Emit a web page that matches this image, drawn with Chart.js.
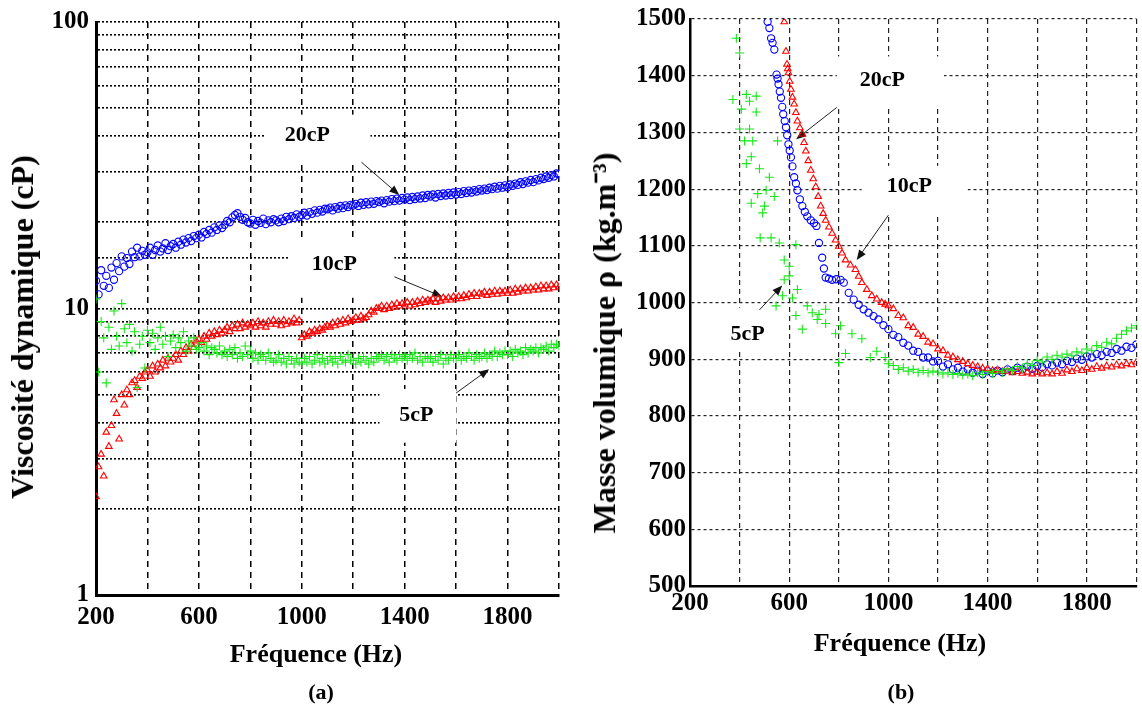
<!DOCTYPE html>
<html lang="fr">
<head>
<meta charset="UTF-8">
<title>Viscosité et masse volumique</title>
<script src="https://cdn.jsdelivr.net/npm/chart.js@4"></script>
<style>
    body { margin: 0; background: #fff; }
    #page { position: relative; width: 1142px; height: 706px; overflow: hidden; background: #fff; }
    canvas { position: absolute; top: 0; }
    .t {
        position: absolute;
        font-family: "Liberation Serif", "Times New Roman", serif;
        font-weight: bold;
        line-height: 1;
        white-space: nowrap;
        color: #000;
    }
    .rot { transform: translate(-50%, -50%) rotate(-90deg); font-size: 32px; }
    .xt { transform: translate(-50%, 0); font-size: 26px; }
    .lab { transform: translate(-50%, -50%); font-size: 22px; }
</style>
</head>
<body>
<div id="page">
    <canvas id="viscChart" width="575" height="706" style="left:0"></canvas>
    <canvas id="rhoChart" width="567" height="706" style="left:575px"></canvas>

    <div class="t rot" style="left:22px; top:327px">Viscosité dynamique (cP)</div>
    <div class="t xt" style="left:316px; top:641px">Fréquence (Hz)</div>
    <div class="t lab" style="left:321px; top:692px">(a)</div>

    <div class="t rot" style="left:604px; top:343px">Masse volumique ρ (kg.m⁻³)</div>
    <div class="t xt" style="left:900px; top:630px">Fréquence (Hz)</div>
    <div class="t lab" style="left:901px; top:692px">(b)</div>
</div>

<script>
    // ---- (a) viscosité : fréquences communes aux trois fluides (pas de 10 Hz)
    const freqVisc = [
        200, 210, 220, 230, 240, 250, 260, 270, 280, 290,
        300, 310, 320, 330, 340, 350, 360, 370, 380, 390,
        400, 410, 420, 430, 440, 450, 460, 470, 480, 490,
        500, 510, 520, 530, 540, 550, 560, 570, 580, 590,
        600, 610, 620, 630, 640, 650, 660, 670, 680, 690,
        700, 710, 720, 730, 740, 750, 760, 770, 780, 790,
        800, 810, 820, 830, 840, 850, 860, 870, 880, 890,
        900, 910, 920, 930, 940, 950, 960, 970, 980, 990,
        1000, 1010, 1020, 1030, 1040, 1050, 1060, 1070, 1080, 1090,
        1100, 1110, 1120, 1130, 1140, 1150, 1160, 1170, 1180, 1190,
        1200, 1210, 1220, 1230, 1240, 1250, 1260, 1270, 1280, 1290,
        1300, 1310, 1320, 1330, 1340, 1350, 1360, 1370, 1380, 1390,
        1400, 1410, 1420, 1430, 1440, 1450, 1460, 1470, 1480, 1490,
        1500, 1510, 1520, 1530, 1540, 1550, 1560, 1570, 1580, 1590,
        1600, 1610, 1620, 1630, 1640, 1650, 1660, 1670, 1680, 1690,
        1700, 1710, 1720, 1730, 1740, 1750, 1760, 1770, 1780, 1790,
        1800, 1810, 1820, 1830, 1840, 1850, 1860, 1870, 1880, 1890,
        1900, 1910, 1920, 1930, 1940, 1950, 1960, 1970, 1980, 1990,
        2000
    ];
    const visc20 = [
        12.5, 11.2, 13.6, 12.0, 13.0, 11.8, 13.9, 12.6, 14.4, 13.5,
        15.2, 14.0, 15.0, 14.3, 15.8, 15.1, 16.3, 15.2, 15.9, 15.4,
        15.7, 16.3, 15.4, 16.0, 16.6, 15.8, 16.2, 16.9, 16.0, 16.5,
        16.8, 16.3, 17.1, 16.7, 17.4, 17.0, 17.6, 17.2, 17.9, 17.6,
        18.1, 17.7, 18.5, 18.2, 18.8, 18.4, 19.2, 18.8, 19.5, 19.1,
        19.6, 20.2, 20.0, 20.8, 21.2, 21.5, 20.9, 20.4, 20.7, 20.0,
        19.8, 20.4, 19.6, 20.2, 19.9, 20.6, 19.7, 20.3, 20.0, 20.5,
        20.3, 20.0, 20.6, 20.2, 20.9, 20.5, 21.0, 20.7, 21.3, 20.9,
        21.2, 21.6, 21.1, 21.7, 21.4, 22.0, 21.6, 22.1, 21.8, 22.3,
        22.2, 22.5, 22.0, 22.6, 22.3, 22.8, 22.4, 22.9, 22.6, 23.0,
        22.9, 23.2, 22.8, 23.4, 23.0, 23.5, 23.1, 23.6, 23.2, 23.7,
        23.5, 23.8, 23.3, 23.9, 23.6, 24.1, 23.7, 24.2, 23.8, 24.3,
        24.0, 24.4, 23.9, 24.5, 24.1, 24.6, 24.2, 24.8, 24.3, 24.9,
        24.6, 25.0, 24.4, 25.1, 24.7, 25.2, 24.8, 25.3, 24.9, 25.4,
        25.0, 25.5, 25.1, 25.7, 25.3, 25.8, 25.4, 25.9, 25.6, 26.1,
        25.8, 26.2, 25.9, 26.4, 26.1, 26.6, 26.2, 26.8, 26.4, 26.9,
        26.5, 27.1, 26.8, 27.3, 27.0, 27.6, 27.2, 27.8, 27.5, 28.1,
        27.6, 28.3, 28.0, 28.6, 28.3, 28.9, 28.6, 29.2, 28.9, 29.6,
        29.4
    ];
    const visc10 = [
        2.2, 2.8, 3.1, 2.6, 3.7, 3.3, 3.9, 4.8, 4.3, 3.5,
        5.0, 4.6, 5.2, 5.0, 5.5, 5.6, 5.3, 5.8, 5.7, 6.0,
        6.1, 5.8, 6.3, 6.0, 6.4, 6.2, 6.6, 6.3, 6.7, 6.5,
        6.7, 6.9, 6.6, 7.1, 6.9, 7.3, 7.1, 7.5, 7.3, 7.7,
        7.8, 7.6, 8.0, 7.8, 8.2, 8.0, 8.3, 8.1, 8.4, 8.2,
        8.4, 8.6, 8.3, 8.7, 8.5, 8.8, 8.5, 8.9, 8.6, 8.8,
        8.7, 8.9, 8.6, 9.0, 8.7, 8.9, 8.6, 9.0, 8.8, 9.1,
        8.8, 9.0, 8.7, 9.1, 8.8, 9.0, 8.9, 9.2, 8.9, 9.1,
        7.9, 8.1, 8.0, 8.3, 8.2, 8.4, 8.3, 8.5, 8.4, 8.6,
        8.7, 8.6, 8.9, 8.7, 9.0, 8.8, 9.1, 8.9, 9.2, 9.0,
        9.1, 9.3, 9.1, 9.4, 9.2, 9.3, 9.5, 9.8, 9.7, 10.0,
        10.0, 10.2, 9.9, 10.2, 10.0, 10.3, 10.1, 10.4, 10.2, 10.4,
        10.3, 10.5, 10.2, 10.5, 10.3, 10.6, 10.4, 10.7, 10.5, 10.7,
        10.6, 10.8, 10.5, 10.8, 10.6, 10.9, 10.7, 10.9, 10.7, 11.0,
        10.8, 11.0, 10.8, 11.1, 10.9, 11.2, 11.0, 11.3, 11.0, 11.3,
        11.2, 11.4, 11.1, 11.4, 11.2, 11.5, 11.2, 11.5, 11.3, 11.5,
        11.3, 11.6, 11.3, 11.7, 11.4, 11.7, 11.5, 11.8, 11.5, 11.8,
        11.6, 11.9, 11.6, 12.0, 11.7, 12.0, 11.7, 12.1, 11.8, 12.1,
        11.9
    ];
    const visc5 = [
        10.8, 6.0, 9.0, 7.9, 5.5, 8.6, 7.2, 9.8, 8.0, 7.4,
        10.4, 8.5, 7.6, 8.8, 7.1, 8.3, 5.3, 7.5, 8.0, 6.2,
        8.4, 7.6, 8.2, 7.2, 7.9, 8.6, 7.5, 8.0, 6.8, 7.7,
        8.1, 7.3, 7.9, 7.6, 8.3, 7.1, 7.7, 7.4, 7.9, 7.2,
        7.3, 7.6, 7.1, 7.4, 6.9, 7.3, 7.2, 7.0, 7.4, 6.9,
        7.1, 6.8, 7.2, 6.9, 7.3, 6.7, 7.0, 6.8, 7.4, 6.9,
        7.1, 6.7, 7.0, 6.6, 6.9, 6.8, 6.6, 7.0, 6.7, 6.5,
        6.6, 6.9, 6.5, 6.7, 6.4, 6.8, 6.6, 6.4, 6.7, 6.5,
        6.4, 6.7, 6.5, 6.8, 6.4, 6.6, 6.9, 6.5, 6.7, 6.4,
        6.6, 6.8, 6.5, 6.7, 6.4, 6.8, 6.6, 6.5, 6.9, 6.6,
        6.6, 6.4, 6.7, 6.5, 6.8, 6.6, 6.4, 6.7, 6.5, 6.8,
        6.7, 6.9, 6.6, 6.8, 6.5, 6.9, 6.7, 6.6, 6.9, 6.7,
        6.8, 6.6, 6.9, 6.7, 7.0, 6.6, 6.8, 6.5, 6.8, 6.7,
        6.7, 6.5, 6.8, 6.6, 6.9, 6.4, 6.7, 6.6, 6.9, 6.7,
        6.7, 6.9, 6.6, 6.8, 6.7, 7.0, 6.8, 6.6, 6.9, 6.7,
        6.8, 7.0, 6.7, 6.9, 6.8, 7.1, 6.8, 7.0, 6.9, 7.1,
        6.9, 7.1, 6.8, 7.2, 7.0, 7.1, 6.9, 7.3, 7.0, 7.2,
        7.1, 7.3, 7.0, 7.3, 7.2, 7.4, 7.1, 7.5, 7.3, 7.5,
        7.4
    ];

    // ---- (b) masse volumique
    const freqRho20 = [
        513, 520, 527, 533, 540, 549, 553, 557, 562, 567, 572, 576, 582, 587, 592, 597, 602, 607, 613, 620,
        627, 633, 643, 653, 663, 673, 687, 700, 710, 720, 733, 740, 747, 760, 773, 790, 807, 820, 840, 860,
        880, 900, 920, 940, 960, 980,
        1000, 1020, 1040, 1060, 1080, 1100, 1120, 1140, 1160, 1180,
        1200, 1220, 1240, 1260, 1280, 1300, 1320, 1340, 1360, 1380,
        1400, 1420, 1440, 1460, 1480, 1500, 1520, 1540, 1560, 1580,
        1600, 1620, 1640, 1660, 1680, 1700, 1720, 1740, 1760, 1780,
        1800, 1820, 1840, 1860, 1880, 1900, 1920, 1940, 1960, 1980, 2000
    ];
    const rho20 = [
        1495, 1484, 1466, 1458, 1446, 1402, 1395, 1385, 1372, 1361, 1345, 1332, 1320, 1309, 1295, 1279, 1268, 1256, 1240, 1221,
        1210, 1198, 1182, 1170, 1160, 1152, 1145, 1140, 1135, 1105, 1079, 1060, 1044, 1042, 1040, 1041, 1040, 1035, 1017, 1005,
        996, 988, 982, 976, 970, 960,
        953, 943, 939, 929, 924, 915, 913, 903, 903, 896,
        897, 887, 891, 882, 885, 878, 882, 876, 880, 874,
        879, 875, 880, 877, 882, 879, 885, 882, 887, 883,
        888, 886, 891, 889, 894, 891, 897, 895, 901, 899,
        905, 903, 909, 907, 913, 911, 918, 915, 922, 920, 926
    ];
    const freqRho10 = [
        580, 587, 591, 594, 597, 602, 607, 613, 620, 627, 633, 643, 653, 660, 667, 677, 687, 697, 707, 717,
        727, 737, 747, 760, 773, 787, 800, 813, 827, 847, 867, 880, 893, 913, 933, 953, 973, 987,
        1000, 1020, 1040, 1060, 1080, 1100, 1120, 1140, 1160, 1180,
        1200, 1220, 1240, 1260, 1280, 1300, 1320, 1340, 1360, 1380,
        1400, 1420, 1440, 1460, 1480, 1500, 1520, 1540, 1560, 1580,
        1600, 1620, 1640, 1660, 1680, 1700, 1720, 1740, 1760, 1780,
        1800, 1820, 1840, 1860, 1880, 1900, 1920, 1940, 1960, 1980, 2000
    ];
    const rho10 = [
        1495, 1443, 1420, 1412, 1405, 1390, 1376, 1362, 1350, 1335, 1320, 1308, 1297, 1282, 1267, 1250, 1233, 1218, 1204, 1187,
        1170, 1157, 1145, 1133, 1122, 1110, 1099, 1087, 1075, 1066, 1058, 1046, 1035, 1023, 1012, 1006, 1000, 997,
        994, 989, 977, 973, 959, 956, 944, 940, 930, 927,
        918, 915, 907, 904, 899, 896, 892, 889, 887, 884,
        883, 880, 881, 878, 879, 876, 878, 875, 877, 874,
        877, 874, 876, 874, 878, 875, 881, 878, 883, 880,
        885, 882, 887, 884, 888, 886, 890, 888, 892, 890, 895
    ];
    const freqRho5 = [
        387, 400, 373, 407, 427, 467, 440, 467, 400, 440, 420, 453, 553, 447, 427, 480, 520, 473, 507, 540,
        447, 500, 493, 483, 527, 560, 627, 580, 600, 580, 600, 573, 613, 547, 633, 627, 653, 673, 693, 720,
        747, 713, 747, 787, 807, 800, 827, 853, 893, 927, 953, 987,
        1000, 1020, 1040, 1060, 1080, 1100, 1120, 1140, 1160, 1180,
        1200, 1220, 1240, 1260, 1280, 1300, 1320, 1340, 1360, 1380,
        1400, 1420, 1440, 1460, 1480, 1500, 1520, 1540, 1560, 1580,
        1600, 1620, 1640, 1660, 1680, 1700, 1720, 1740, 1760, 1780,
        1800, 1820, 1840, 1860, 1880, 1900, 1920, 1940, 1960, 1980, 2000
    ];
    const rho5 = [
        1466, 1440, 1358, 1341, 1367, 1364, 1355, 1336, 1306, 1306, 1285, 1285, 1285, 1257, 1245, 1236, 1221, 1192, 1198, 1187,
        1175, 1170, 1158, 1114, 1114, 1105, 1102, 1075, 1064, 1040, 1047, 1012, 1008, 994, 1023, 977, 953, 994, 982, 979,
        988, 970, 963, 945, 959, 894, 910, 945, 936, 903, 914, 903,
        892, 889, 882, 885, 879, 882, 877, 880, 876, 879,
        877, 874, 876, 873, 875, 872, 874, 871, 876, 873,
        878, 875, 880, 877, 883, 880, 887, 884, 892, 889,
        898, 895, 904, 900, 907, 904, 909, 906, 913, 911,
        918, 915, 924, 921, 930, 927, 937, 944, 950, 955, 959
    ];

    const xTicksLabeled = [200, 600, 1000, 1400, 1800];
    const viscTicksLabeled = [1, 10, 100];

    // étiquettes (texte, position, cadre blanc, flèche) en coordonnées des axes
    const notesVisc = [
        { text: '20cP', at: [1022, 40.2], box: [855, 1267, 47.5, 32.4], arrow: [[1232, 32.4], [1379, 24.9]] },
        { text: '10cP', at: [1127, 14.3], box: [952, 1360, 17.4, 10.9], arrow: [[1360, 12.9], [1546, 11.0]] },
        { text: '5cP', at: [1445, 4.25], box: [1302, 1600, 5.24, 3.4], arrow: [[1600, 5.07], [1728, 6.14]] }
    ];
    const notesRho = [
        { text: '20cP', at: [976, 1392], box: [792, 1224, 1434, 1344], arrow: [[792, 1344], [628, 1288]] },
        { text: '10cP', at: [1084, 1205], box: [892, 1320, 1241, 1157], arrow: [[1000, 1154], [872, 1075]] },
        { text: '5cP', at: [432, 944], box: [260, 580, 991, 913], arrow: [[480, 987], [572, 1030]] }
    ];

    const BLUE = '#0000ff', RED = '#ff0000', GREEN = '#19e619';
    const SERIF = '"Liberation Serif", "Times New Roman", serif';

    Chart.defaults.font.family = SERIF;
    Chart.defaults.font.weight = 'bold';
    Chart.defaults.color = '#000';

    function toPoints(xs, ys) {
        return xs.map((x, i) => ({ x: x, y: ys[i] }));
    }

    const notesPlugin = {
        id: 'notes',
        beforeDatasetsDraw(chart, args, opts) {
            const ctx = chart.ctx;
            const sx = chart.scales.x, sy = chart.scales.y;
            ctx.save();
            for (const n of opts.items || []) {
                const x0 = sx.getPixelForValue(n.box[0]), x1 = sx.getPixelForValue(n.box[1]);
                const y0 = sy.getPixelForValue(n.box[2]), y1 = sy.getPixelForValue(n.box[3]);
                ctx.fillStyle = '#fff';
                ctx.fillRect(Math.min(x0, x1), Math.min(y0, y1), Math.abs(x1 - x0), Math.abs(y1 - y0));

                ctx.fillStyle = '#000';
                ctx.font = 'bold 22px ' + SERIF;
                ctx.textAlign = 'center';
                ctx.textBaseline = 'middle';
                ctx.fillText(n.text, sx.getPixelForValue(n.at[0]), sy.getPixelForValue(n.at[1]));

                const ax = sx.getPixelForValue(n.arrow[0][0]), ay = sy.getPixelForValue(n.arrow[0][1]);
                const bx = sx.getPixelForValue(n.arrow[1][0]), by = sy.getPixelForValue(n.arrow[1][1]);
                const ang = Math.atan2(by - ay, bx - ax);
                ctx.strokeStyle = '#222';
                ctx.lineWidth = 1;
                ctx.beginPath();
                ctx.moveTo(ax, ay);
                ctx.lineTo(bx - 6 * Math.cos(ang), by - 6 * Math.sin(ang));
                ctx.stroke();
                ctx.fillStyle = '#111';
                ctx.beginPath();
                ctx.moveTo(bx, by);
                ctx.lineTo(bx - 10 * Math.cos(ang) + 4 * Math.sin(ang), by - 10 * Math.sin(ang) - 4 * Math.cos(ang));
                ctx.lineTo(bx - 10 * Math.cos(ang) - 4 * Math.sin(ang), by - 10 * Math.sin(ang) + 4 * Math.cos(ang));
                ctx.closePath();
                ctx.fill();
            }
            ctx.restore();
        }
    };

    function serie(label, xs, ys, style, color, radius) {
        return {
            label: label,
            data: toPoints(xs, ys),
            showLine: false,
            pointStyle: style,
            pointRadius: radius,
            pointBorderWidth: 1.1,
            pointBorderColor: color,
            pointBackgroundColor: 'rgba(0,0,0,0)',
            borderColor: color
        };
    }

    const xTickCallback = v => xTicksLabeled.includes(v) ? String(v) : '';

    new Chart(document.getElementById('viscChart'), {
        type: 'scatter',
        data: {
            datasets: [
                serie('5cP', freqVisc, visc5, 'cross', GREEN, 4.5),
                serie('10cP', freqVisc, visc10, 'triangle', RED, 3.8),
                serie('20cP', freqVisc, visc20, 'circle', BLUE, 3.6)
            ]
        },
        options: {
            responsive: false,
            animation: false,
            events: [],
            layout: { padding: { left: 0, top: 19, right: 16, bottom: 0 } },
            plugins: {
                legend: { display: false },
                tooltip: { enabled: false },
                notes: { items: notesVisc }
            },
            scales: {
                x: {
                    type: 'linear', min: 200, max: 2000,
                    afterFit: s => { s.height = 111; },
                    ticks: { stepSize: 200, autoSkip: false, maxRotation: 0, padding: 8,
                             font: { size: 25, weight: 'bold' }, callback: xTickCallback },
                    grid: { color: '#000', lineWidth: 1.5, drawTicks: false },
                    border: { display: true, color: '#000', width: 3, dash: [6, 5] }
                },
                y: {
                    type: 'logarithmic', min: 1, max: 100,
                    afterFit: s => { s.width = 96; },
                    ticks: { autoSkip: false, padding: 7, font: { size: 25, weight: 'bold' },
                             callback: v => viscTicksLabeled.includes(v) ? String(v) : '' },
                    grid: { color: '#000', lineWidth: 1.6, drawTicks: false },
                    border: { display: true, color: '#000', width: 3, dash: [2, 2] }
                }
            }
        },
        plugins: [notesPlugin]
    });

    new Chart(document.getElementById('rhoChart'), {
        type: 'scatter',
        data: {
            datasets: [
                serie('5cP', freqRho5, rho5, 'cross', GREEN, 4.5),
                serie('10cP', freqRho10, rho10, 'triangle', RED, 3.8),
                serie('20cP', freqRho20, rho20, 'circle', BLUE, 3.6)
            ]
        },
        options: {
            responsive: false,
            animation: false,
            events: [],
            layout: { padding: { left: 0, top: 14, right: 2, bottom: 0 } },
            plugins: {
                legend: { display: false },
                tooltip: { enabled: false },
                notes: { items: notesRho }
            },
            scales: {
                x: {
                    type: 'linear', min: 200, max: 2000,
                    afterFit: s => { s.height = 120; },
                    ticks: { stepSize: 200, autoSkip: false, maxRotation: 0, padding: 3,
                             font: { size: 25, weight: 'bold' }, callback: xTickCallback },
                    grid: { color: '#222', lineWidth: 1.2, drawTicks: false },
                    border: { display: true, color: '#000', width: 2.5, dash: [5, 4] }
                },
                y: {
                    type: 'linear', min: 500, max: 1500,
                    afterFit: s => { s.width = 115; },
                    ticks: { stepSize: 100, autoSkip: false, padding: 4, font: { size: 25, weight: 'bold' },
                             callback: v => String(v) },
                    grid: { color: '#222', lineWidth: 1.2, drawTicks: false },
                    border: { display: true, color: '#000', width: 2.5, dash: [3, 3] }
                }
            }
        },
        plugins: [notesPlugin]
    });
</script>
</body>
</html>
